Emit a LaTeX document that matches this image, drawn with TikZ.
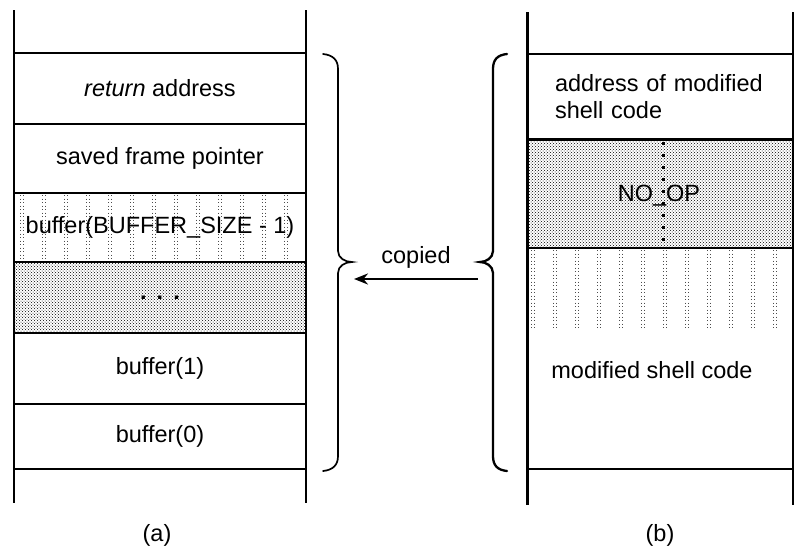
\documentclass[tikz,border=0pt]{standalone}
\usepackage{fontspec}
\setmainfont{Liberation Sans}
\usetikzlibrary{patterns,arrows.meta}
\begin{document}
\begin{tikzpicture}[x=1pt,y=-1pt,
  every node/.style={font=\fontsize{23.5pt}{27pt}\selectfont},
  cellL/.style={draw, line width=1.8pt, minimum width=292pt, inner sep=0pt, outer sep=0pt},
  cellR/.style={draw, line width=1.8pt, minimum width=266pt, inner sep=0pt, outer sep=0pt},
  dense/.style={pattern=crosshatch dots, pattern color=black},
  vdots/.style={draw=black!70, line width=0.9pt, dash pattern=on 1pt off 2.5pt},
  colline/.style={line width=1.6pt},
  bracestyle/.style={line width=1.7pt, line cap=round},
  txt/.style={inner sep=0pt}]
\useasboundingbox (0,0) rectangle (803,547);

% ---------- left stack (a)
\foreach \x in {20,42,...,300} {
  \draw[vdots] (\x,195) -- (\x,260);
  \draw[vdots] (\x+3,195) -- (\x+3,260);
}
\node[cellL, minimum height=71pt] (ret) at (160,88.5) {\textit{return} address};
\node[cellL, minimum height=69pt] (sfp) at (160,158.5) {saved frame pointer};
\node[cellL, minimum height=69pt] (bsz) at (160,227.5) {buffer(BUFFER\_SIZE - 1)};
\node[cellL, dense, minimum height=71pt] (mid) at (160,297.5) {\textbf{.\hspace{10pt}.\hspace{10pt}.}};
\node[cellL, minimum height=71pt] (b1) at (160,368.5) {buffer(1)};
\node[cellL, minimum height=65pt] (b0) at (160,436.5) {buffer(0)};
\draw[colline] (14,10) -- (14,503);
\draw[colline] (306,10) -- (306,503);
\node[txt] (la) at (157,535) {(a)};

% ---------- right stack (b)
\foreach \x in {531,553,...,785} {
  \draw[vdots] (\x,250) -- (\x,330);
  \draw[vdots] (\x+3,250) -- (\x+3,330);
}
\node[cellR, minimum height=86pt, text width=210pt, align=left] (addr) at (660,97) {address of modified\\shell code};
\node[cellR, dense, minimum height=109pt] (nop) at (660,193.5) {};
\draw[line width=3pt, dash pattern=on 3pt off 9pt] (663,142) -- (663,246);
\node[txt] (noptxt) at (659,196) {NO\_OP};
\node[cellR, minimum height=221pt] (shell) at (660,358.5) {};
\node[txt] (shelltxt) at (652,370) {modified shell code};
\draw[line width=3pt] (527,12) -- (527,505);
\draw[line width=2pt] (793,12) -- (793,505);
\node[txt] (lb) at (660,535) {(b)};

% ---------- braces and arrow
\draw[bracestyle] (323,54) .. controls (333,55) and (338,60) .. (338,69)
  -- (338,251) .. controls (338,258) and (345,262) .. (352,262)
  .. controls (345,262) and (338,266) .. (338,273)
  -- (338,456) .. controls (338,465) and (333,470) .. (323,471);
\draw[bracestyle, line width=2.3pt] (507,54) .. controls (497,55) and (493,60) .. (493,69)
  -- (493,251) .. controls (493,258) and (486,262) .. (480,262)
  .. controls (486,262) and (493,266) .. (493,273)
  -- (493,456) .. controls (493,465) and (497,470) .. (507,471);
\coordinate (cpR) at (478,279);
\coordinate (cpL) at (354,279);
\draw[line width=2.6pt, -{Stealth[length=14pt,width=11pt]}] (cpR) -- (cpL);
\node[txt] (copied) at (416,257) {copied};
\end{tikzpicture}
\end{document}
